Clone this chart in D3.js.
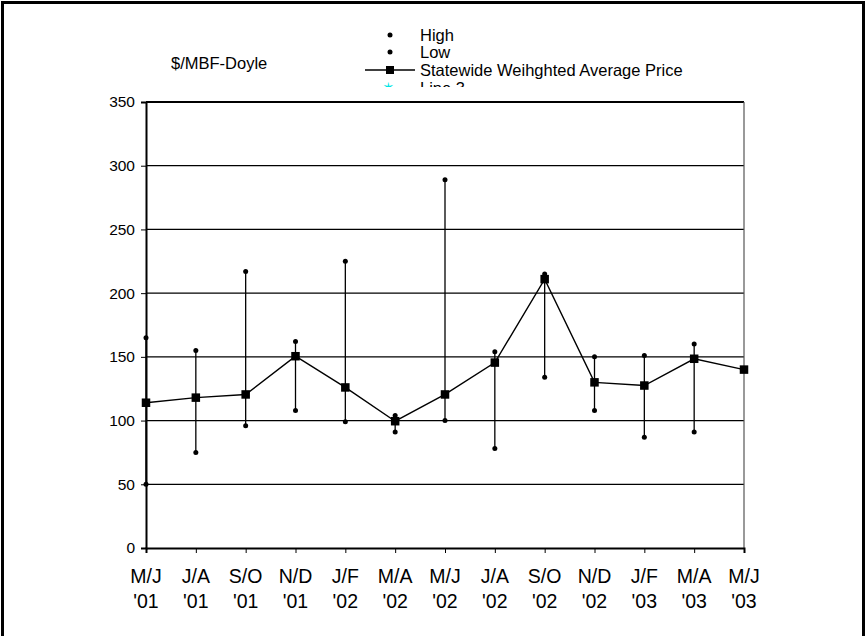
<!DOCTYPE html>
<html>
<head>
<meta charset="utf-8">
<script src="https://cdn.jsdelivr.net/npm/d3@7"></script>
<style>
  body { margin: 0; background: #fff; }
  text { font-family: "Liberation Sans", Arial, sans-serif; fill: #000; }
</style>
</head>
<body>
<div id="chart"></div>
<script>
// Bimonthly periods
const periods = ["M/J '01", "J/A '01", "S/O '01", "N/D '01", "J/F '02", "M/A '02", "M/J '02",
                 "J/A '02", "S/O '02", "N/D '02", "J/F '03", "M/A '03", "M/J '03"];
const highs = [165, 155, 217, 162, 225, 104, 289, 154, 215, 150, 151, 160, null];
const lows  = [50, 75, 96, 108, 99, 91, 100, 78, 134, 108, 87, 91, null];
const avgPrice = [114, 118, 120.5, 150.5, 126, 99.5, 120.5, 145.5, 211, 130, 127.5, 148.5, 140];
const yTicks = [0, 50, 100, 150, 200, 250, 300, 350];

const width = 866, height = 636;
const margin = { left: 146, right: 122, top: 102, bottom: 88 };

const svg = d3.select("#chart").append("svg")
    .attr("width", width)
    .attr("height", height);

// outer frame (bottom edge is cut off in the original)
svg.append("path")
    .attr("d", `M2.5,${height} L2.5,2.5 L863.5,2.5 L863.5,${height}`)
    .attr("fill", "none")
    .attr("stroke", "#000")
    .attr("stroke-width", 3);

const x = d3.scalePoint()
    .domain(periods)
    .range([margin.left, width - margin.right]);

const y = d3.scaleLinear()
    .domain([0, 350])
    .range([height - margin.bottom, margin.top]);

// gridlines
svg.append("g")
    .selectAll("line")
    .data(yTicks.slice(1))
    .join("line")
    .attr("x1", margin.left).attr("x2", width - margin.right)
    .attr("y1", d => y(d)).attr("y2", d => y(d))
    .attr("stroke", "#000")
    .attr("stroke-width", d => d === 350 ? 2 : 1.2);

// right border of plot
svg.append("line")
    .attr("x1", width - margin.right).attr("x2", width - margin.right)
    .attr("y1", margin.top).attr("y2", y(0))
    .attr("stroke", "#555")
    .attr("stroke-width", 1.2);

// y axis
const yAxis = svg.append("g")
    .attr("transform", `translate(${margin.left},0)`)
    .call(d3.axisLeft(y).tickValues(yTicks).tickSize(5).tickPadding(6));
yAxis.select(".domain").attr("stroke-width", 2);
yAxis.selectAll("text")
    .style("font-size", "15.5px")
    .style("font-family", "Liberation Sans, Arial, sans-serif");

// x axis
const xAxis = svg.append("g")
    .attr("transform", `translate(0,${y(0)})`)
    .call(d3.axisBottom(x).tickSize(5).tickFormat(""));
xAxis.select(".domain").attr("stroke-width", 2);

const xLabels = svg.append("g")
    .selectAll("text")
    .data(periods)
    .join("text")
    .attr("x", d => x(d))
    .attr("text-anchor", "middle")
    .style("font-size", "19.5px");
xLabels.append("tspan")
    .attr("x", d => x(d))
    .attr("y", y(0) + 35)
    .text(d => d.split(" ")[0]);
xLabels.append("tspan")
    .attr("x", d => x(d))
    .attr("y", y(0) + 60)
    .text(d => d.split(" ")[1]);

// high-low lines
const hl = periods.map((p, i) => ({ p, high: highs[i], low: lows[i], avg: avgPrice[i] }))
    .filter(d => d.high != null);

svg.append("g")
    .selectAll("line")
    .data(hl)
    .join("line")
    .attr("x1", d => x(d.p)).attr("x2", d => x(d.p))
    .attr("y1", d => y(d.high)).attr("y2", d => y(d.low))
    .attr("stroke", "#000")
    .attr("stroke-width", 1.3);

// average line
const line = d3.line()
    .x((d, i) => x(periods[i]))
    .y(d => y(d));

svg.append("path")
    .datum(avgPrice)
    .attr("d", line)
    .attr("fill", "none")
    .attr("stroke", "#000")
    .attr("stroke-width", 1.4);

// high and low dots
const dots = hl.flatMap(d => [{ p: d.p, v: d.high }, { p: d.p, v: d.low }]);
svg.append("g")
    .selectAll("circle")
    .data(dots)
    .join("circle")
    .attr("cx", d => x(d.p))
    .attr("cy", d => y(d.v))
    .attr("r", 2.5)
    .attr("fill", "#000");

// average squares
svg.append("g")
    .selectAll("rect")
    .data(avgPrice)
    .join("rect")
    .attr("x", (d, i) => x(periods[i]) - 4.25)
    .attr("y", d => y(d) - 4.25)
    .attr("width", 8.5)
    .attr("height", 8.5)
    .attr("fill", "#000");

// unit label
svg.append("text")
    .attr("x", 171)
    .attr("y", 69)
    .style("font-size", "16.5px")
    .text("$/MBF-Doyle");

// legend (clipped at the bottom like the original)
svg.append("clipPath")
    .attr("id", "legend-clip")
    .append("rect")
    .attr("x", 330).attr("y", 15).attr("width", 420).attr("height", 72);

const legend = svg.append("g").attr("clip-path", "url(#legend-clip)");
const legendRows = [
    { label: "High", type: "dot", y: 35 },
    { label: "Low", type: "dot", y: 52 },
    { label: "Statewide Weihghted Average Price", type: "lineSquare", y: 70 },
    { label: "Line 3", type: "cyan", y: 88 }
];

legendRows.forEach(r => {
    if (r.type === "dot") {
        legend.append("circle").attr("cx", 390).attr("cy", r.y).attr("r", 2.5).attr("fill", "#000");
    } else if (r.type === "lineSquare") {
        legend.append("line")
            .attr("x1", 365).attr("x2", 415)
            .attr("y1", r.y).attr("y2", r.y)
            .attr("stroke", "#000").attr("stroke-width", 1.3);
        legend.append("rect")
            .attr("x", 386).attr("y", r.y - 4).attr("width", 8).attr("height", 8)
            .attr("fill", "#000");
    } else {
        legend.append("text")
            .attr("x", 388).attr("y", r.y + 5)
            .attr("text-anchor", "middle")
            .style("font-size", "15px")
            .style("fill", "#00e5e5")
            .text("\u2736");
    }
    legend.append("text")
        .attr("x", 420)
        .attr("y", r.y + 6)
        .style("font-size", "16.5px")
        .text(r.label);
});
</script>
</body>
</html>
